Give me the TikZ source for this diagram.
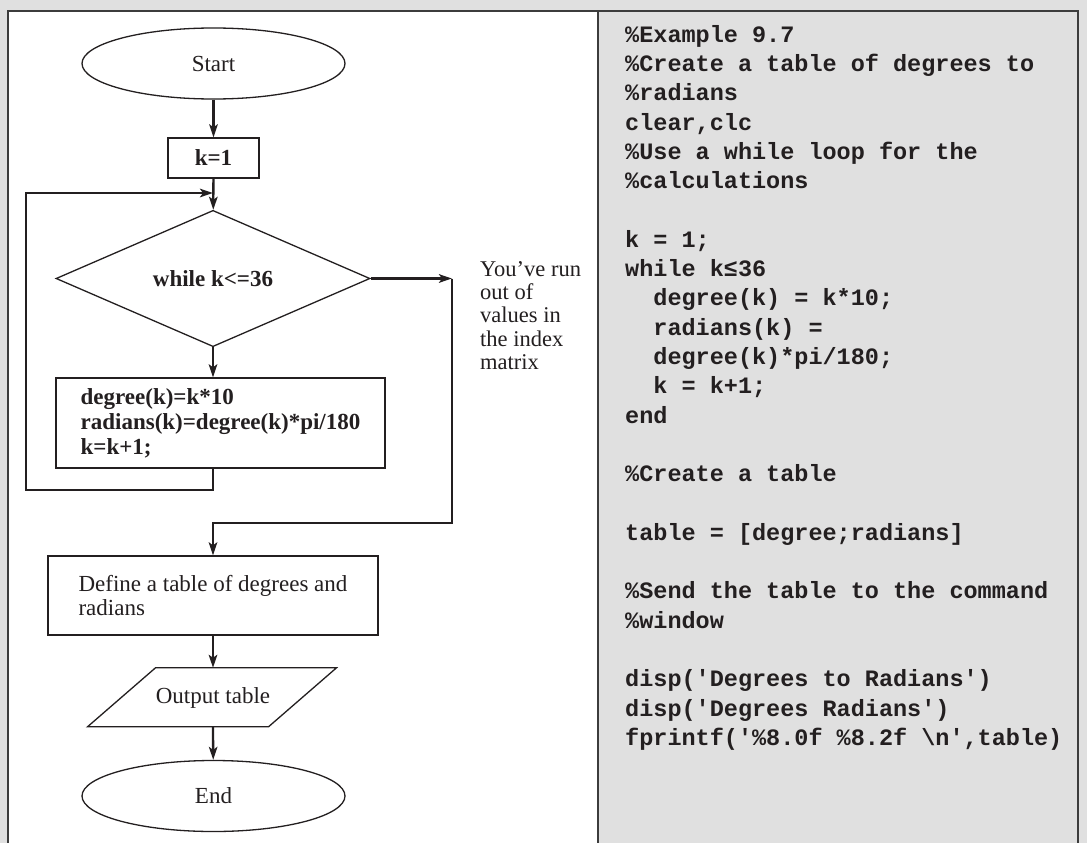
\documentclass[tikz,border=0pt]{standalone}
\usepackage{fontspec}
\setmainfont{Liberation Serif}
\newfontfamily\codefont{Liberation Mono}
\usetikzlibrary{shapes.geometric,arrows.meta,calc}
\definecolor{bg}{RGB}{224,224,224}
\definecolor{ink}{RGB}{35,31,32}
\definecolor{framec}{RGB}{60,60,60}
\begin{document}
\begin{tikzpicture}[x=1pt,y=-1pt,
  outline/.style={draw=ink, line width=1.3pt, text=ink},
  txt/.style={font=\fontsize{23}{25}\selectfont},
  term/.style={ellipse, outline, txt, minimum width=263pt, minimum height=71pt, inner sep=0pt},
  procbox/.style={rectangle, outline, txt, inner sep=0pt},
  decision/.style={diamond, outline, txt, minimum width=314pt, minimum height=123pt, inner sep=0pt},
  conn/.style={draw=ink, line width=2.3pt, -{Stealth[length=13pt,width=8.5pt,inset=3pt]}},
  panelframe/.style={draw=framec, line width=1.5pt}
]
\useasboundingbox (0,0) rectangle (1087,843);
\fill[bg] (0,0) rectangle (1087,843);
\fill[white] (8,11) rectangle (598,843);
\draw[panelframe] (8,843) -- (8,11) -- (1078,11) -- (1078,843);
\draw[panelframe] (598,11) -- (598,843);

% flowchart nodes
\node[term] (start) at (213.5,63.5) {Start};
\node[procbox, minimum width=91pt, minimum height=40pt, font=\fontsize{23}{25}\selectfont\bfseries] (k1) at (213.5,158) {k=1};
\node[decision, font=\fontsize{23}{25}\selectfont\bfseries] (wh) at (213,278.5) {while k<=36};
\node[procbox, minimum width=329pt, minimum height=90pt, align=left,
      font=\fontsize{23}{25}\selectfont\bfseries] (proc) at (220.5,423)
      {degree(k)=k*10\\radians(k)=degree(k)*pi/180\\k=k+1;};
\node[procbox, minimum width=330pt, minimum height=79pt, align=left,
      font=\fontsize{23}{23.5}\selectfont] (def) at (213,595.5)
      {Define a table of degrees and\\radians};
\node[txt, text=ink, minimum height=59pt, inner sep=0pt] (out) at (213,697.5) {Output table};
\draw[outline] ($(out.north)+(-57.5,0)$) -- ++(181,0) -- ++(-68,59) -- ++(-181,0) -- cycle;
\node[term] (end) at (213.5,796) {End};

\node[anchor=north west, align=left, inner sep=0pt, text=ink, font=\fontsize{22.5}{23.3}\selectfont] (note) at (480,261)
  {You’ve run\\out of\\values in\\the index\\matrix};

% connectors
\coordinate (lb) at (26,490);
\coordinate (lt) at (26,193);
\coordinate (rx) at (452,278.5);
\coordinate (rb) at (452,523);
\draw[conn] (start) -- (k1);
\draw[conn] (k1) -- (wh);
\draw[conn] (wh.south) -- (wh.south |- proc.north);
\draw[conn] (wh.south |- proc.south) |- (lb) -- (lt) -- (lt -| wh.north);
\draw[conn] (wh.east) -- (rx);
\draw[conn] (rx) -- (rb) -| (def.north);
\draw[conn] (def) -- (out.north);
\draw[conn] (out.south) -- (end);

% code listing
\node[anchor=north west, inner sep=0pt, align=left, text=ink,
      font=\codefont\bfseries\fontsize{23.5}{29.3}\selectfont] (code) at (625,25) {%
\%Example 9.7\\
\%Create a table of degrees to\\
\%radians\\
clear,clc\\
\%Use a while loop for the\\
\%calculations\\
~\\
k = 1;\\
while k≤36\\
\phantom{xx}degree(k) = k*10;\\
\phantom{xx}radians(k) =\\
\phantom{xx}degree(k)*pi/180;\\
\phantom{xx}k = k+1;\\
end\\
~\\
\%Create a table\\
~\\
table = [degree;radians]\\
~\\
\%Send the table to the command\\
\%window\\
~\\
disp(\textquotesingle Degrees to Radians\textquotesingle)\\
disp(\textquotesingle Degrees Radians\textquotesingle)\\
fprintf(\textquotesingle\%8.0f \%8.2f \textbackslash n\textquotesingle,table)};
\end{tikzpicture}
\end{document}
